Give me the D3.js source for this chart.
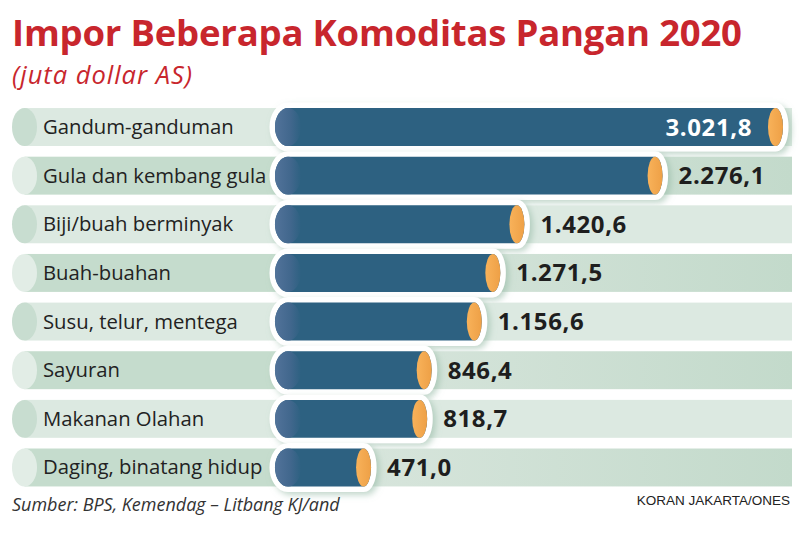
<!DOCTYPE html>
<html>
<head>
<meta charset="utf-8">
<script src="https://cdn.jsdelivr.net/npm/d3@7/dist/d3.min.js"></script>
<style>
  html, body { margin: 0; padding: 0; background: #ffffff; }
  svg { display: block; }
</style>
</head>
<body>
<svg id="chart" width="801" height="541"></svg>
<script>
// ---- data ----
const categories = [
  "Gandum-ganduman",
  "Gula dan kembang gula",
  "Biji/buah berminyak",
  "Buah-buahan",
  "Susu, telur, mentega",
  "Sayuran",
  "Makanan Olahan",
  "Daging, binatang hidup"
];
const values = [3021.8, 2276.1, 1420.6, 1271.5, 1156.6, 846.4, 818.7, 471.0];
const valueLabels = ["3.021,8", "2.276,1", "1.420,6", "1.271,5", "1.156,6", "846,4", "818,7", "471,0"];
const titleText = "Impor Beberapa Komoditas Pangan 2020";
const subtitleText = "(juta dollar AS)";
const sourceText = "Sumber: BPS, Kemendag \u2013 Litbang KJ/and";
const creditText = "KORAN JAKARTA/ONES";

// ---- layout ----
const W = 801, H = 541;
const svg = d3.select("#chart");
const defs = svg.append("defs");

const RED = "#c8262d";
const BLUE = "#2d6181";
const LIGHT = "#dce9e1";
const DARK = "#c5dccd";

const bandLeft = 12, bandRight = 792, capRx = 12.5;
const barStart = 275;

const y = d3.scaleBand()
  .domain(categories)
  .range([102.7, 491.8])
  .paddingInner(0.22)
  .paddingOuter(0.11);

const x = d3.scaleLinear()
  .domain([0, d3.max(values)])
  .range([295, 783]);

// gradients
const gEnd = defs.append("linearGradient").attr("id", "capGrad")
  .attr("x1", "0").attr("x2", "1").attr("y1", "0").attr("y2", "0");
gEnd.append("stop").attr("offset", "0%").attr("stop-color", "#52739a");
gEnd.append("stop").attr("offset", "60%").attr("stop-color", "#41678d");
gEnd.append("stop").attr("offset", "100%").attr("stop-color", BLUE);

const gOr = defs.append("linearGradient").attr("id", "orGrad")
  .attr("x1", "0").attr("x2", "1").attr("y1", "0").attr("y2", "0");
gOr.append("stop").attr("offset", "0%").attr("stop-color", "#f8b25a");
gOr.append("stop").attr("offset", "100%").attr("stop-color", "#eea046");

const gDarkRow = defs.append("linearGradient").attr("id", "darkRow")
  .attr("gradientUnits", "userSpaceOnUse")
  .attr("x1", barStart).attr("x2", bandRight).attr("y1", 0).attr("y2", 0);
gDarkRow.append("stop").attr("offset", "0%").attr("stop-color", "#dbe7df");
gDarkRow.append("stop").attr("offset", "100%").attr("stop-color", "#c3dacb");

const shadow = defs.append("filter").attr("id", "shadow")
  .attr("x", "-10%").attr("y", "-40%").attr("width", "130%").attr("height", "190%");
shadow.append("feDropShadow")
  .attr("dx", 3).attr("dy", 3).attr("stdDeviation", 3)
  .attr("flood-color", "#8fb5a0").attr("flood-opacity", 0.55);

// ---- title ----
function fitSpacing(sel, target) {
  const node = sel.node();
  const w = node.getComputedTextLength();
  const n = sel.text().length;
  if (n > 1) sel.attr("letter-spacing", (target - w) / (n - 1));
}
function fitSize(sel, target, maxFs) {
  const fs = +sel.attr("font-size");
  const w = sel.node().getComputedTextLength();
  sel.attr("font-size", Math.min(maxFs, fs * target / w));
}

const title = svg.append("text")
  .attr("x", 12).attr("y", 46)
  .attr("font-family", "'Open Sans', sans-serif")
  .attr("font-weight", 700)
  .attr("font-size", 36.5)
  .attr("fill", RED)
  .text(titleText);
fitSpacing(title, 730);

const sub = svg.append("text")
  .attr("x", 12).attr("y", 84)
  .attr("font-family", "'Open Sans', sans-serif")
  .attr("font-style", "italic")
  .attr("font-size", 25.5)
  .attr("fill", RED)
  .text(subtitleText);
fitSpacing(sub, 180);

// ---- rows ----
const rows = svg.append("g").selectAll("g.row")
  .data(categories.map((c, i) => ({ c, v: values[i], lab: valueLabels[i], i })))
  .join("g").attr("class", "row");

const bw = y.bandwidth();

// background band
rows.append("rect")
  .attr("x", bandLeft + capRx)
  .attr("y", d => y(d.c))
  .attr("width", barStart - bandLeft - capRx + 2)
  .attr("height", bw)
  .attr("fill", d => d.i % 2 === 0 ? LIGHT : DARK);

rows.append("rect")
  .attr("x", barStart)
  .attr("y", d => y(d.c))
  .attr("width", bandRight - barStart)
  .attr("height", bw)
  .attr("fill", d => d.i % 2 === 0 ? LIGHT : "url(#darkRow)");

// left cap of band
rows.append("ellipse")
  .attr("cx", bandLeft + capRx)
  .attr("cy", d => y(d.c) + bw / 2)
  .attr("rx", capRx)
  .attr("ry", bw / 2)
  .attr("fill", d => d.i % 2 === 0 ? "#c8ddd0" : "#e2ede6");

// category labels
rows.append("text")
  .attr("x", 43)
  .attr("y", d => y(d.c) + bw / 2 + 7)
  .attr("font-family", "'Open Sans', sans-serif")
  .attr("font-size", 20.3)
  .attr("fill", "#222")
  .text(d => d.c);

// bars
const lRx = 13, rRx = 7.5;
function barPath(d) {
  const y0 = y(d.c), y1 = y0 + bw, ry = bw / 2;
  const cxL = barStart + lRx, cxR = x(d.v) - rRx;
  return `M${cxL},${y0} L${cxR},${y0} A${rRx},${ry} 0 0 1 ${cxR},${y1} L${cxL},${y1} A${lRx},${ry} 0 0 1 ${cxL},${y0} Z`;
}

rows.append("path")
  .attr("d", barPath)
  .attr("fill", "#fff")
  .attr("stroke", "#fff")
  .attr("stroke-width", 11)
  .attr("stroke-linejoin", "round")
  .attr("filter", "url(#shadow)");

rows.append("path")
  .attr("d", barPath)
  .attr("fill", BLUE);

rows.append("ellipse")
  .attr("cx", barStart + lRx)
  .attr("cy", d => y(d.c) + bw / 2)
  .attr("rx", lRx)
  .attr("ry", bw / 2)
  .attr("fill", "url(#capGrad)");

rows.append("ellipse")
  .attr("cx", d => x(d.v) - rRx)
  .attr("cy", d => y(d.c) + bw / 2)
  .attr("rx", rRx)
  .attr("ry", bw / 2)
  .attr("fill", "url(#orGrad)");

// value labels
rows.each(function(d) {
  const g = d3.select(this);
  const t = g.append("text")
    .attr("y", y(d.c) + bw / 2 + 8.5)
    .attr("font-family", "'Open Sans', sans-serif")
    .attr("font-weight", 700)
    .attr("font-size", 24)
    .attr("letter-spacing", 0.6)
    .text(d.lab);
  const w = t.node().getComputedTextLength();
  if (x(d.v) + 16 + w > bandRight - 5) {
    t.attr("x", x(d.v) - 31).attr("text-anchor", "end").attr("fill", "#fff");
  } else {
    t.attr("x", x(d.v) + 16).attr("text-anchor", "start").attr("fill", "#1e1e1e");
  }
});

// ---- footer ----
const src = svg.append("text")
  .attr("x", 12).attr("y", 511)
  .attr("font-family", "'Open Sans', sans-serif")
  .attr("font-style", "italic")
  .attr("font-size", 18)
  .attr("fill", "#333")
  .text(sourceText);
fitSize(src, 328, 19);

const cred = svg.append("text")
  .attr("x", 790).attr("y", 505)
  .attr("text-anchor", "end")
  .attr("font-family", "'Liberation Sans', Arial, sans-serif")
  .attr("font-size", 13.5)
  .attr("fill", "#222")
  .text(creditText);
</script>
</body>
</html>
